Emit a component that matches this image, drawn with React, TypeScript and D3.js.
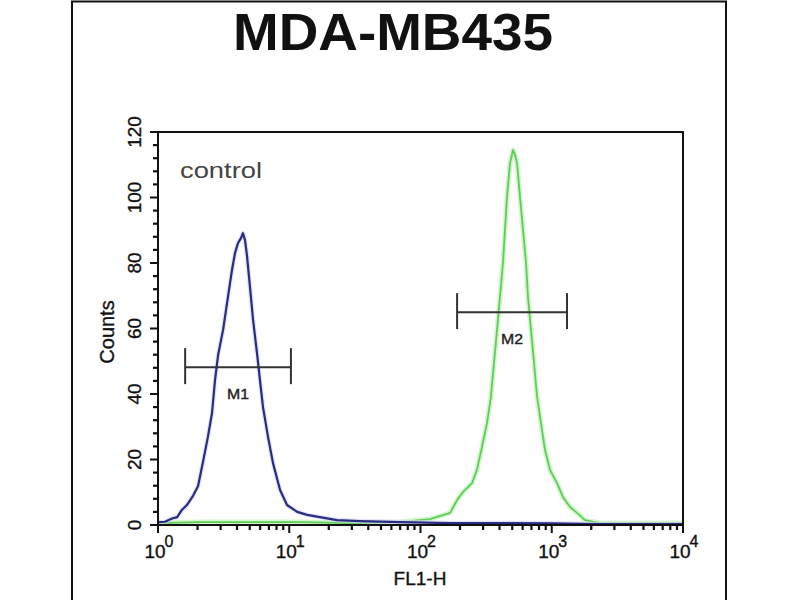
import React from "react";
import * as d3 from "d3";

// ---- data ----
const title = "MDA-MB435";
const xLabel = "FL1-H";
const yLabel = "Counts";
const yTicks = [0, 20, 40, 60, 80, 100, 120];
const xDecades = [1, 10, 100, 1000, 10000];
const xExps = ["0", "1", "2", "3", "4"];

// control (blue) histogram: FL1 value, counts
const blueX = [1.0, 1.13, 1.28, 1.4, 1.52, 1.66, 1.85, 2.02, 2.2, 2.4, 2.58, 2.72, 2.87, 3.13, 3.36, 3.66, 3.86, 4.07, 4.29, 4.44, 4.6, 4.76, 5.02, 5.3, 5.68, 5.98, 6.31, 6.89, 7.52, 8.51, 9.62, 11.5, 13.7, 17.1, 23.1, 34.6, 69.8, 168, 403, 970, 2333, 10000];
const blueY = [0.9, 1.0, 2.0, 2.4, 4.6, 6.1, 8.9, 11.9, 19.2, 26.9, 34.2, 44.3, 51.9, 59.5, 67.8, 77.8, 83.0, 86.1, 87.6, 89.1, 87.0, 82.4, 72.7, 62.6, 52.5, 44.3, 36.0, 26.9, 18.9, 10.7, 6.1, 4.0, 3.1, 2.4, 1.5, 1.2, 0.9, 0.6, 0.6, 0.5, 0.3, 0.3];

// sample (green) histogram
const greenX = [1, 2.09, 5.0, 12.1, 29, 69.8, 118, 168, 190, 211, 247, 269, 294, 321, 344, 363, 383, 403, 425, 440, 456, 481, 507, 525, 544, 573, 604, 637, 659, 695, 733, 773, 828, 889, 970, 1097, 1219, 1378, 1557, 1791, 2333, 10000];
const greenY = [0.6, 0.9, 0.9, 0.9, 0.6, 0.9, 1.8, 3.7, 7.6, 10.1, 12.8, 16.8, 23.8, 31.1, 39.1, 49.5, 59.5, 69.6, 80.0, 90.1, 100.1, 110.5, 114.5, 113, 110.5, 100.1, 90.1, 80.0, 69.6, 59.5, 49.5, 39.1, 31.1, 22.9, 16.8, 12.8, 8.5, 5.5, 3.7, 1.5, 0.6, 0.6];

// markers
const markerNames = ["M1", "M2"];
const markerFrom = [1.61, 190];
const markerTo = [10.3, 1307];
const markerCount = [48.2, 65];

const controlLabel = "control";

const FONT = "'Liberation Sans', Arial, Helvetica, sans-serif";

export default function App() {
  const W = 800, H = 600;
  const left = 158, right = 683, top = 132, bottom = 525;
  const x = d3.scaleLog().domain([1, 10000]).range([left, right]);
  const y = d3.scaleLinear().domain([0, 120]).range([bottom, top]);

  const blue = blueX.map((v, i) => [v, blueY[i]] as [number, number]);
  const green = greenX.map((v, i) => [v, greenY[i]] as [number, number]);

  const yMinor = d3.range(0, 121, 4).filter((v) => v % 20 !== 0);
  const xMinor: number[] = [];
  for (let e = 0; e < 4; e++) for (let k = 2; k <= 9; k++) xMinor.push(k * Math.pow(10, e));

  const lineSmooth = d3
    .line<[number, number]>()
    .x((d) => x(d[0]))
    .y((d) => y(d[1]))
    .curve(d3.curveLinear);

  const txt = { fill: "#111", stroke: "#111", strokeWidth: 0.35 } as const;

  return (
    <svg
      width={W}
      height={H}
      style={{ position: "absolute", left: 0, top: 0, background: "#fff" }}
      fontFamily={FONT}
    >
      <rect x={0} y={0} width={W} height={H} fill="#fff" />
      {/* outer frame */}
      <path d={`M72,${H + 2} V1.5 H726 V${H + 2}`} fill="none" stroke="#111" strokeWidth={2} />
      {/* title */}
      <text x={393} y={50} textAnchor="middle" fontSize={52} fontWeight="bold" fill="#111" textLength={320} lengthAdjust="spacingAndGlyphs">
        {title}
      </text>

      {/* green histogram with glow */}
      <path d={lineSmooth(green) || ""} fill="none" stroke="#c9f2c0" strokeWidth={5} strokeLinejoin="round" opacity={0.8} />
      <path d={lineSmooth(green) || ""} fill="none" stroke="#5ccf56" strokeWidth={1.8} strokeLinejoin="round" />
      {/* blue histogram */}
      <path d={lineSmooth(blue) || ""} fill="none" stroke="#d6d8f4" strokeWidth={4.5} strokeLinejoin="round" opacity={0.7} />
      <path d={lineSmooth(blue) || ""} fill="none" stroke="#2a2c82" strokeWidth={2.2} strokeLinejoin="round" />

      {/* plot frame */}
      <rect x={left} y={top} width={right - left} height={bottom - top} fill="none" stroke="#111" strokeWidth={2} />

      {/* y ticks */}
      {yTicks.map((t) => (
        <g key={"yt" + t}>
          <line x1={left - 8} x2={left} y1={y(t)} y2={y(t)} stroke="#111" strokeWidth={2} />
          <text
            transform={`translate(${left - 17},${y(t)}) rotate(-90)`}
            textAnchor="middle"
            fontSize={19}
            {...txt}
          >
            {t}
          </text>
        </g>
      ))}
      {yMinor.map((t) => (
        <line key={"ym" + t} x1={left - 5} x2={left} y1={y(t)} y2={y(t)} stroke="#111" strokeWidth={2.2} />
      ))}

      {/* x ticks */}
      {xDecades.map((d, i) => (
        <g key={"xt" + d}>
          <line x1={x(d)} x2={x(d)} y1={bottom} y2={bottom + 8} stroke="#111" strokeWidth={2} />
          <text x={x(d) - 3} y={bottom + 33} textAnchor="middle" fontSize={19} {...txt}>
            10
          </text>
          <text x={x(d) + 11} y={bottom + 22} textAnchor="middle" fontSize={16} {...txt}>
            {xExps[i]}
          </text>
        </g>
      ))}
      {xMinor.map((d, i) => (
        <line key={"xm" + i} x1={x(d)} x2={x(d)} y1={bottom} y2={bottom + 5} stroke="#111" strokeWidth={2.2} />
      ))}

      {/* axis titles */}
      <text x={420} y={585} textAnchor="middle" fontSize={19} {...txt}>
        {xLabel}
      </text>
      <text transform={`translate(114,332) rotate(-90)`} textAnchor="middle" fontSize={20} {...txt}>
        {yLabel}
      </text>

      {/* control label */}
      <text x={180} y={178} fontSize={22} fill="#444" textLength={82} lengthAdjust="spacingAndGlyphs">
        {controlLabel}
      </text>

      {/* markers */}
      {markerNames.map((m, i) => {
        const x0 = x(markerFrom[i]);
        const x1 = x(markerTo[i]);
        const yy = y(markerCount[i]);
        return (
          <g key={m}>
            <line x1={x0} x2={x1} y1={yy} y2={yy} stroke="#333" strokeWidth={2} />
            <line x1={x0} x2={x0} y1={yy - 19} y2={yy + 17} stroke="#333" strokeWidth={2} />
            <line x1={x1} x2={x1} y1={yy - 19} y2={yy + 17} stroke="#333" strokeWidth={2} />
            <text x={(x0 + x1) / 2} y={yy + 32} textAnchor="middle" fontSize={15} fill="#222" stroke="#222" strokeWidth={0.4} textLength={22} lengthAdjust="spacingAndGlyphs">
              {m}
            </text>
          </g>
        );
      })}
    </svg>
  );
}
